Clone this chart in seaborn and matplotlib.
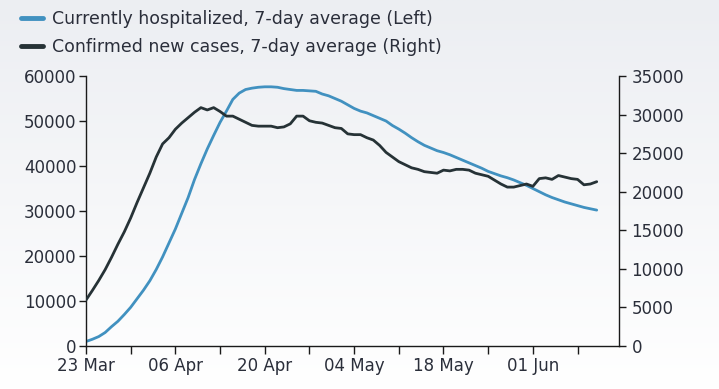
import matplotlib
matplotlib.use("Agg")
import matplotlib.dates as mdates
import matplotlib.pyplot as plt
import numpy as np
import pandas as pd
import seaborn as sns

# ── Data (daily, 23 Mar onward) ──────────────────────────────────────

start_date = "2020-03-23"

hospitalized = [
    1000, 1500, 2100, 3000, 4300, 5500, 7000, 8600, 10500, 12400,
    14500, 17000, 19800, 22900, 26000, 29500, 33000, 37000, 40500, 43800,
    46800, 49700, 52200, 54800, 56200, 57000, 57300, 57500, 57600, 57600,
    57500, 57200, 57000, 56800, 56800, 56700, 56600, 56000, 55600, 55000,
    54400, 53600, 52800, 52200, 51800, 51200, 50600, 50000, 49000, 48200,
    47300, 46300, 45400, 44600, 44000, 43400, 43000, 42500, 41900, 41300,
    40700, 40100, 39500, 38800, 38300, 37800, 37400, 36900, 36300, 35700,
    35000, 34300, 33600, 33000, 32500, 32000, 31600, 31200, 30800, 30500,
    30200,
]

new_cases = [
    5960, 7200, 8500, 9900, 11500, 13200, 14800, 16600, 18600, 20500,
    22400, 24500, 26200, 27000, 28100, 28900, 29600, 30300, 30900, 30600,
    30900, 30400, 29800, 29800, 29400, 29000, 28600, 28500, 28500, 28500,
    28300, 28400, 28800, 29800, 29800, 29200, 29000, 28900, 28600, 28300,
    28200, 27500, 27400, 27400, 27000, 26700, 26000, 25100, 24500, 23900,
    23500, 23100, 22900, 22600, 22500, 22400, 22800, 22700, 22900, 22900,
    22800, 22400, 22200, 22000, 21500, 21000, 20600, 20600, 20800, 21000,
    20700, 21700, 21800, 21600, 22100, 21900, 21700, 21600, 20900, 21000,
    21300,
]

labels = [
    "Currently hospitalized, 7-day average (Left)",
    "Confirmed new cases, 7-day average (Right)",
]

dates = pd.date_range(start_date, periods=len(hospitalized), freq="D")
df = pd.DataFrame({"date": dates, "hosp": hospitalized, "cases": new_cases})

# ── Style ────────────────────────────────────────────────────────────

BLUE = "#4191c0"
DARK = "#263236"
TEXT = "#2a2e3a"

sns.set_theme(style="white")
plt.rcParams.update({
    "font.family": ["DejaVu Sans"],
    "text.color": TEXT,
    "axes.edgecolor": "#1a1a1a",
    "xtick.color": "#1a1a1a",
    "ytick.color": "#1a1a1a",
    "xtick.labelcolor": TEXT,
    "ytick.labelcolor": TEXT,
})

fig = plt.figure(figsize=(7.19, 3.89), dpi=100)

# gradient background
bg = fig.add_axes([0, 0, 1, 1], zorder=-10)
grad = np.linspace(0, 1, 256).reshape(-1, 1)
bg.imshow(grad, aspect="auto", cmap=matplotlib.colors.LinearSegmentedColormap.from_list(
    "bg", ["#eceef2", "#ffffff"]), extent=[0, 1, 0, 1])
bg.axis("off")

ax = fig.add_axes([0.1196, 0.1105, 0.861 - 0.1196, 0.8046 - 0.1105])
ax.set_facecolor("none")
ax2 = ax.twinx()

sns.lineplot(data=df, x="date", y="hosp", ax=ax, color=BLUE, linewidth=2.0, label=labels[0], legend=False)
sns.lineplot(data=df, x="date", y="cases", ax=ax2, color=DARK, linewidth=2.0, label=labels[1], legend=False)

ax.set_ylim(0, 60000)
ax.set_yticks(range(0, 60001, 10000))
ax2.set_ylim(0, 35000)
ax2.set_yticks(range(0, 35001, 5000))

ax.set_xlim(pd.Timestamp("2020-03-23"), pd.Timestamp("2020-06-15") - pd.Timedelta(hours=12))
major = pd.date_range("2020-03-23", "2020-06-01", freq="14D")
minor = pd.date_range("2020-03-30", "2020-06-08", freq="14D")
ax.set_xticks(major)
ax.set_xticks(minor, minor=True)
ax.xaxis.set_major_formatter(mdates.DateFormatter("%d %b"))

for a in (ax, ax2):
    a.set_xlabel("")
    a.set_ylabel("")
    a.spines["top"].set_visible(False)
    for s in a.spines.values():
        s.set_linewidth(1.0)
ax.spines["right"].set_visible(False)
ax2.spines["left"].set_visible(False)
ax2.spines["bottom"].set_visible(False)

ax.tick_params(axis="x", which="both", direction="out", length=6, width=1, bottom=True, labelsize=12, pad=2)
ax.tick_params(axis="y", direction="out", length=5, width=1, left=True, labelsize=12, pad=2)
ax2.tick_params(axis="y", direction="out", length=5, width=1, right=True, labelsize=12, pad=4)

handles = ax.get_lines()[:1] + ax2.get_lines()[:1]
fig.legend(handles, labels, loc="upper left", bbox_to_anchor=(0.012, 1.005), frameon=False,
           fontsize=12.5, handlelength=1.3, handletextpad=0.5, labelspacing=0.55,
           borderaxespad=0.3)
for h in fig.legends[0].get_lines():
    h.set_linewidth(3.5)

fig.savefig("out.png", dpi=100)
